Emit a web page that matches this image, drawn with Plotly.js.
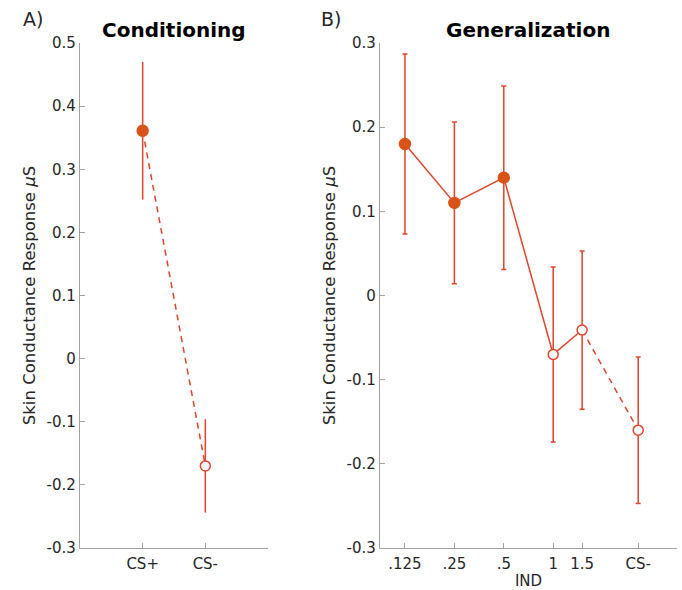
<!DOCTYPE html>
<html>
<head>
<meta charset="utf-8">
<script src="https://cdn.plot.ly/plotly-3.0.1.min.js"></script>
<style>html,body{margin:0;padding:0;background:#fff;}#chart{width:682px;height:590px;}</style>
</head>
<body>
<div id="chart"></div>
<script>
// Panel A: Conditioning
const condCategories = ["CS+", "CS-"];
const condX = [1, 2];
const condMean = [0.361, -0.170];
const condErr = [0.109, 0.074];

// Panel B: Generalization
const genLabels = [".125", ".25", ".5", "1", "1.5", "CS-"];
const genInd = [0.125, 0.25, 0.5, 1, 1.5];
const genCsPos = 1.72; // CS- placement on log2 IND axis
const genMean = [0.180, 0.110, 0.140, -0.070, -0.041, -0.160];
const genErr = [0.107, 0.096, 0.109, 0.104, 0.094, 0.087];

const yTicksA = [0.5, 0.4, 0.3, 0.2, 0.1, 0, -0.1, -0.2, -0.3];
const yTicksB = [0.3, 0.2, 0.1, 0, -0.1, -0.2, -0.3];

const lineRed = "#e4432a";
const markRed = "#d95319";
const genX = genInd.map(v => Math.log2(v)).concat([genCsPos]);

const traces = [];
traces.push({x: condX, y: condMean, xaxis: "x", yaxis: "y", mode: "lines",
  line: {color: lineRed, width: 1.5, dash: "6px,5px"}, hoverinfo: "skip", showlegend: false});
traces.push({x: [condX[0]], y: [condMean[0]], xaxis: "x", yaxis: "y", mode: "markers",
  error_y: {type: "data", array: [condErr[0]], color: lineRed, thickness: 1.5, width: 0},
  marker: {color: markRed, size: 11, line: {color: markRed, width: 1.5}}, showlegend: false});
traces.push({x: [condX[1]], y: [condMean[1]], xaxis: "x", yaxis: "y", mode: "markers",
  error_y: {type: "data", array: [condErr[1]], color: lineRed, thickness: 1.5, width: 0},
  marker: {color: "#fff", size: 10, line: {color: lineRed, width: 1.5}}, showlegend: false});

traces.push({x: genX.slice(0, 5), y: genMean.slice(0, 5), xaxis: "x2", yaxis: "y2", mode: "lines",
  line: {color: lineRed, width: 1.5}, showlegend: false});
traces.push({x: genX.slice(4, 6), y: genMean.slice(4, 6), xaxis: "x2", yaxis: "y2", mode: "lines",
  line: {color: lineRed, width: 1.5, dash: "6px,5px"}, showlegend: false});
traces.push({x: genX.slice(0, 3), y: genMean.slice(0, 3), xaxis: "x2", yaxis: "y2", mode: "markers",
  error_y: {type: "data", array: genErr.slice(0, 3), color: lineRed, thickness: 1.5, width: 2.5},
  marker: {color: markRed, size: 11, line: {color: markRed, width: 1.5}}, showlegend: false});
traces.push({x: genX.slice(3), y: genMean.slice(3), xaxis: "x2", yaxis: "y2", mode: "markers",
  error_y: {type: "data", array: genErr.slice(3), color: lineRed, thickness: 1.5, width: 2.5},
  marker: {color: "#fff", size: 10, line: {color: lineRed, width: 1.5}}, showlegend: false});

const axCommon = {
  showgrid: false, zeroline: false, showline: true, linecolor: "#a0a0a0", linewidth: 1.2,
  ticks: "inside", ticklen: 5, tickcolor: "#a0a0a0", tickwidth: 1,
  tickfont: {family: "DejaVu Sans", size: 15, color: "#262626"}, mirror: false
};
const xAx = Object.assign({}, axCommon, {ticklabelstandoff: 2});
const fmt = v => v === 0 ? "0" : (v < 0 ? "-" + Math.abs(v).toFixed(1) : v.toFixed(1));

const W = 682, H = 590;
const layout = {
  width: W, height: H, margin: {l: 0, r: 0, t: 0, b: 0},
  paper_bgcolor: "#fff", plot_bgcolor: "#fff",
  font: {family: "DejaVu Sans", color: "#262626"},
  xaxis: Object.assign({}, xAx, {domain: [80 / W, 268 / W], range: [0, 3],
    tickvals: condX, ticktext: condCategories, anchor: "y"}),
  yaxis: Object.assign({}, axCommon, {domain: [42 / H, 547 / H], range: [-0.3, 0.5],
    tickvals: yTicksA, ticktext: yTicksA.map(fmt), anchor: "x",
    title: {text: "Skin Conductance Response <i>μ</i>S", font: {size: 16.5, color: "#262626"}, standoff: 6}}),
  xaxis2: Object.assign({}, xAx, {domain: [380 / W, 677 / W], range: [-3.505, 2.505],
    tickvals: genX, ticktext: genLabels, anchor: "y2",
    title: {text: "IND", font: {size: 15, color: "#262626"}, standoff: 6}}),
  yaxis2: Object.assign({}, axCommon, {domain: [42 / H, 547 / H], range: [-0.3, 0.3],
    tickvals: yTicksB, ticktext: yTicksB.map(fmt), anchor: "x2",
    title: {text: "Skin Conductance Response <i>μ</i>S", font: {size: 16.5, color: "#262626"}, standoff: 6}}),
  annotations: [
    {text: "<b>Conditioning</b>", x: 174 / W, y: 1 - 30 / H, xref: "paper", yref: "paper",
      showarrow: false, font: {size: 20, color: "#000"}, xanchor: "center", yanchor: "middle"},
    {text: "<b>Generalization</b>", x: 528 / W, y: 1 - 30 / H, xref: "paper", yref: "paper",
      showarrow: false, font: {size: 20, color: "#000"}, xanchor: "center", yanchor: "middle"},
    {text: "A)", x: 21 / W, y: 1 - 19 / H, xref: "paper", yref: "paper",
      showarrow: false, font: {size: 19, color: "#262626"}, xanchor: "left", yanchor: "middle"},
    {text: "B)", x: 319 / W, y: 1 - 19 / H, xref: "paper", yref: "paper",
      showarrow: false, font: {size: 19, color: "#262626"}, xanchor: "left", yanchor: "middle"}
  ]
};

Plotly.newPlot("chart", traces, layout, {displayModeBar: false, staticPlot: true});
</script>
</body>
</html>
